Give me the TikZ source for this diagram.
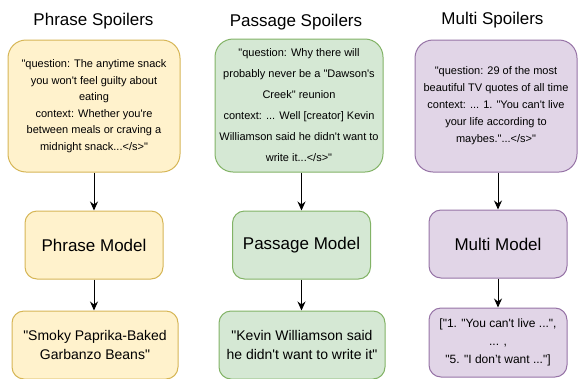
\documentclass[tikz,border=0pt]{standalone}
\usepackage{fontspec}
\setmainfont{Liberation Sans}[Ligatures=TeXOff]
\usepackage{tikz}
\usetikzlibrary{arrows.meta}
\definecolor{phraseFill}{HTML}{FFF2CC}
\definecolor{phraseLine}{HTML}{D6B656}
\definecolor{passageFill}{HTML}{D5E8D4}
\definecolor{passageLine}{HTML}{82B366}
\definecolor{multiFill}{HTML}{E1D5E7}
\definecolor{multiLine}{HTML}{9673A6}
\tikzstyle{Title}=[font=\fontsize{17}{20}\selectfont]
\tikzstyle{Input}=[rectangle, rounded corners=18, line width=1, align=center, font=\fontsize{11}{16.5}\selectfont]
\tikzstyle{Model}=[rectangle, rounded corners=12, line width=1, minimum width=138, minimum height=68, font=\fontsize{17}{20}\selectfont]
\tikzstyle{Output}=[rectangle, rounded corners=12, line width=1, align=center, font=\fontsize{14}{18.3}\selectfont]
\tikzstyle{phrase}=[draw=phraseLine, fill=phraseFill]
\tikzstyle{passage}=[draw=passageLine, fill=passageFill]
\tikzstyle{multi}=[draw=multiLine, fill=multiFill]
\tikzstyle{Flow}=[line width=1, -{Stealth[length=9, width=8]}]

\begin{document}
\begin{tikzpicture}[x=1pt, y=-1pt]
    \useasboundingbox (0,0) rectangle (578,378);
    \path
    (93.5,21) node[Title] (tphrase) {Phrase Spoilers}
    (296,22) node[Title] (tpassage) {Passage Spoilers}
    (492.5,20) node[Title] (tmulti) {Multi Spoilers}
    (94,106) node[Input, phrase, minimum width=172, minimum height=132] (inphrase)
        {"question: The anytime snack\\ you won't feel guilty about\\ eating\\ context: Whether you're\\ between meals or craving a\\ midnight snack...</s>"}
    (299,105.5) node[Input, passage, minimum width=168, minimum height=133, font=\fontsize{11}{21}\selectfont] (inpassage)
        {"question: Why there will\\ probably never be a "Dawson's\\ Creek" reunion\\ context: ... Well [creator] Kevin\\ Williamson said he didn't want to\\ write it...</s>"}
    (496,106) node[Input, multi, minimum width=162, minimum height=132, font=\fontsize{11}{17}\selectfont] (inmulti)
        {"question: 29 of the most\\ beautiful TV quotes of all time\\ context: ... 1. "You can't live\\ your life according to\\ maybes."...</s>"}
    (94,245) node[Model, phrase] (mphrase) {Phrase Model}
    (301.5,245) node[Model, passage] (mpassage) {Passage Model}
    (498,244) node[Model, multi] (mmulti) {Multi Model}
    (95,345) node[Output, phrase, minimum width=166, minimum height=68] (ophrase)
        {"Smoky Paprika-Baked\\ Garbanzo Beans"}
    (302,345) node[Output, passage, minimum width=166, minimum height=68] (opassage)
        {"Kevin Williamson said\\ he didn't want to write it"}
    (498,342.5) node[Output, multi, minimum width=138, minimum height=69, font=\fontsize{12}{18}\selectfont] (omulti)
        {["1. "You can't live ...",\\ ... ,\\ "5. "I don’t want ..."]};

    \draw[Flow] (inphrase.south -| mphrase) -- (mphrase);
    \draw[Flow] (inpassage.south -| mpassage) -- (mpassage);
    \draw[Flow] (inmulti.south -| mmulti) -- (mmulti);
    \draw[Flow] (mphrase) -- (mphrase |- ophrase.north);
    \draw[Flow] (mpassage) -- (mpassage |- opassage.north);
    \draw[Flow] (mmulti) -- (omulti);
\end{tikzpicture}
\end{document}
